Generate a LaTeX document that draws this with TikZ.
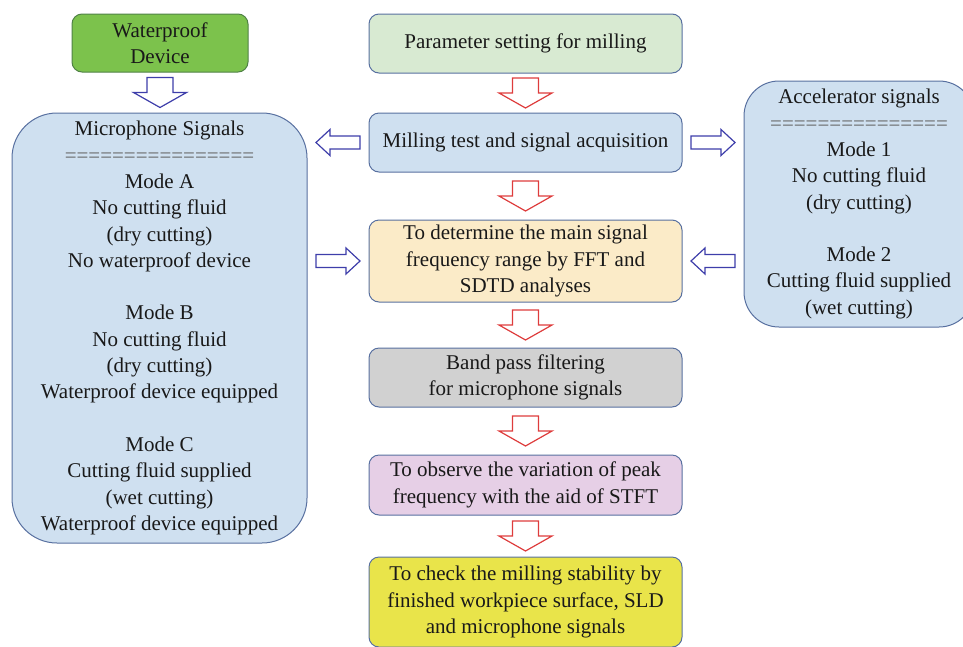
\documentclass[tikz,border=0pt]{standalone}
\usepackage{fontspec}
\setmainfont{Liberation Serif}
\usetikzlibrary{calc}

\definecolor{edgeblue}{RGB}{88,112,160}
\definecolor{skyfill}{RGB}{207,224,240}
\definecolor{mintfill}{RGB}{216,234,210}
\definecolor{leaffill}{RGB}{124,194,76}
\definecolor{leafedge}{RGB}{80,130,70}
\definecolor{sandfill}{RGB}{251,235,200}
\definecolor{greyfill}{RGB}{209,209,209}
\definecolor{lilacfill}{RGB}{230,207,230}
\definecolor{lemonfill}{RGB}{233,228,74}
\definecolor{arrowred}{RGB}{222,60,60}
\definecolor{arrowblue}{RGB}{62,62,170}

\tikzstyle{every node}=[align=center, text=black!90, inner sep=0pt, font=\fontsize{21}{26.3}\selectfont]
\tikzstyle{flow}=[rectangle, rounded corners=10pt, draw=edgeblue, line width=1pt, minimum width=313pt, minimum height=59pt]
\tikzstyle{panel}=[rectangle, draw=edgeblue, fill=skyfill, line width=1pt]
\tikzstyle{redblock}=[draw=arrowred, fill=white, line width=1.2pt]
\tikzstyle{blueblock}=[draw=arrowblue, fill=white, line width=1.2pt]

% hollow block arrows: style, from, to, angle
\newcommand{\bigarrow}[4]{\draw[#1, shift={($(#2)!.5!(#3)$)}, rotate=#4]
  (-15,-13) -- (0,-13) -- (0,-26.5) -- (15,0) -- (0,26.5) -- (0,13) -- (-15,13) -- cycle;}
\newcommand{\smallarrow}[4]{\draw[#1, shift={($(#2)!.5!(#3)$)}, rotate=#4]
  (-22,-6.5) -- (8,-6.5) -- (8,-13) -- (22,0) -- (8,13) -- (8,6.5) -- (-22,6.5) -- cycle;}
\newcommand{\eqline}{\textcolor{black!60}}

\begin{document}
\begin{tikzpicture}[x=1pt, y=1pt]
\useasboundingbox (0,0) rectangle (963,-646);
\clip (0,0) rectangle (963,-646);

\node [flow, fill=mintfill] (param) at (525.5,-43.5) {Parameter setting for milling};
\node [flow, fill=skyfill, below of=param, node distance=99pt] (mill) {Milling test and signal acquisition};
\node [flow, fill=sandfill, minimum height=82pt, below of=mill, node distance=118.5pt] (fft)
  {To determine the main signal\\ frequency range by FFT and\\ SDTD analyses};
\node [flow, fill=greyfill, below of=fft, node distance=116.5pt] (band)
  {Band pass filtering\\ for microphone signals};
\node [flow, fill=lilacfill, minimum height=60pt, below of=band, node distance=107.5pt] (stft)
  {To observe the variation of peak\\ frequency with the aid of STFT};
\node [flow, fill=lemonfill, minimum height=90pt, below of=stft, node distance=117pt] (check)
  {To check the milling stability by\\ finished workpiece surface, SLD\\ and microphone signals};

\node [rectangle, rounded corners=10pt, draw=leafedge, fill=leaffill, line width=1pt,
  minimum width=176pt, minimum height=58pt] (water) at (160,-43) {Waterproof\\ Device};

\node [panel, rounded corners=45pt, minimum width=295pt, minimum height=430pt] (mic) at (159.5,-328)
  {Microphone Signals\\ \eqline{================}\\
   Mode A\\ No cutting fluid\\ (dry cutting)\\ No waterproof device\\[26.3pt]
   Mode B\\ No cutting fluid\\ (dry cutting)\\ Waterproof device equipped\\[26.3pt]
   Mode C\\ Cutting fluid supplied\\ (wet cutting)\\ Waterproof device equipped};

\node [panel, rounded corners=35pt, minimum width=230pt, minimum height=246pt] (accel) at (859,-204)
  {Accelerator signals\\ \eqline{===============}\\
   Mode 1\\ No cutting fluid\\ (dry cutting)\\[26.3pt]
   Mode 2\\ Cutting fluid supplied\\ (wet cutting)};

\bigarrow{redblock}{param.south}{mill.north}{-90}
\bigarrow{redblock}{mill.south}{fft.north}{-90}
\bigarrow{redblock}{fft.south}{band.north}{-90}
\bigarrow{redblock}{band.south}{stft.north}{-90}
\bigarrow{redblock}{stft.south}{check.north}{-90}
\bigarrow{blueblock}{water.south}{water.south |- mic.north}{-90}

\smallarrow{blueblock}{mill.west}{mill.west -| mic.east}{180}
\smallarrow{blueblock}{mill.east}{mill.east -| accel.west}{0}
\smallarrow{blueblock}{fft.west -| mic.east}{fft.west}{0}
\smallarrow{blueblock}{fft.east}{fft.east -| accel.west}{180}

\end{tikzpicture}
\end{document}
